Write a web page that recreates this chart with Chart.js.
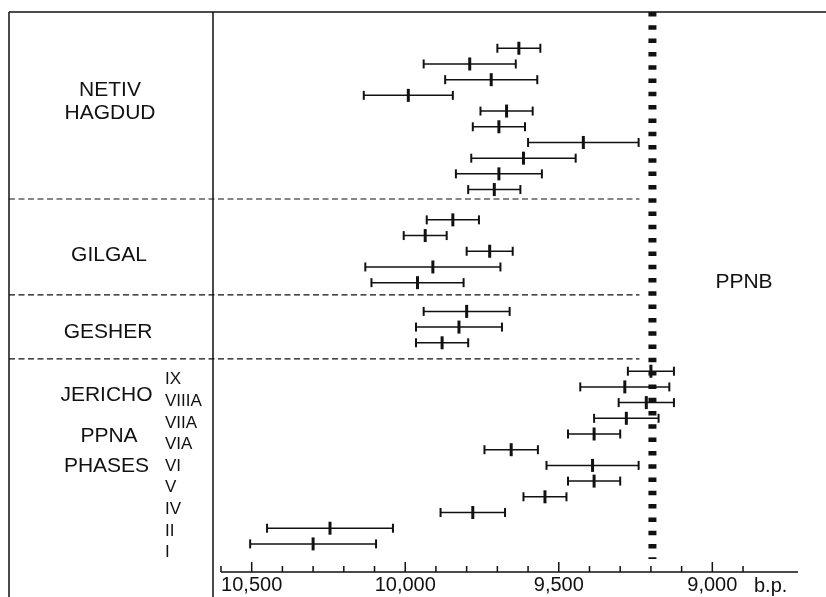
<!DOCTYPE html>
<html>
<head>
<meta charset="utf-8">
<script src="https://cdn.jsdelivr.net/npm/chart.js@4/dist/chart.umd.min.js"></script>
<style>
  html, body { margin: 0; padding: 0; background: #fff; overflow: hidden; }
  canvas { display: block; }
</style>
</head>
<body>
<canvas id="chart" width="826" height="597"></canvas>
<script>
// radiocarbon dates (b.p.) and their one-sigma ranges, top to bottom
const netivDates  = [9630, 9790, 9720, 9990, 9670, 9695, 9420, 9615, 9695, 9710];
const netivErrors = [70, 150, 150, 145, 85, 85, 180, 170, 140, 85];
const gilgalDates  = [9845, 9935, 9725, 9910, 9960];
const gilgalErrors = [85, 70, 75, 220, 150];
const gesherDates  = [9800, 9825, 9880];
const gesherErrors = [140, 140, 85];
const jerichoDates  = [9200, 9285, 9215, 9280, 9385, 9655, 9390, 9385, 9545, 9780, 10245, 10300];
const jerichoErrors = [75, 145, 90, 105, 85, 87, 150, 85, 70, 105, 205, 205];
const jerichoPhases = ['IX', 'VIIIA', 'VIIA', 'VIA', 'VI', 'V', 'IV', 'II', 'I'];
const ppnbBoundary = 9195;
// axis: minor ticks every 100 years from 10,600 to 8,900, labels every 500
const tickFirst = 10600;
const tickLast = 8900;
const tickStep = 100;
const labelStep = 500;

const ink = '#111';
const groups = [
    { dates: netivDates, errors: netivErrors },
    { dates: gilgalDates, errors: gilgalErrors },
    { dates: gesherDates, errors: gesherErrors },
    { dates: jerichoDates, errors: jerichoErrors },
];
// extra space between the site blocks (in row units)
const groupOffset = [0, 0.93, 1.76, 2.57];
const separators = [9.6, 15.71, 19.79];

const datasets = [];
const centers = [];
let row = 0;
groups.forEach((g, gi) => {
    g.dates.forEach((d, i) => {
        const pos = row + groupOffset[gi];
        datasets.push({
            type: 'line',
            data: [{ x: d + g.errors[i], y: pos }, { x: d - g.errors[i], y: pos }],
            borderColor: ink,
            borderWidth: 1.5,
            pointStyle: 'line',
            pointRotation: 90,
            pointRadius: 4.5,
            pointBorderWidth: 2,
            pointBorderColor: ink,
        });
        centers.push({ x: d, y: pos });
        row++;
    });
});
// centre marks
datasets.unshift({
    type: 'scatter',
    data: centers,
    pointStyle: 'line',
    pointRotation: 90,
    pointRadius: 6.5,
    pointBorderWidth: 3,
    pointBorderColor: ink,
});
// PPNB boundary
datasets.push({
    type: 'line',
    data: [{ x: ppnbBoundary, y: -2.31 }, { x: ppnbBoundary, y: 32.53 }],
    borderColor: ink,
    borderWidth: 8,
    borderDash: [4.5, 8.8],
    borderCapStyle: 'butt',
    pointRadius: 0,
});

const decor = {
    id: 'decor',
    beforeDatasetsDraw(chart) {
        const { ctx, chartArea: a, scales: { x, y } } = chart;
        ctx.save();
        ctx.strokeStyle = ink;
        ctx.lineWidth = 1.5;
        ctx.beginPath();
        ctx.moveTo(9, 12); ctx.lineTo(826, 12);
        ctx.moveTo(9, 12); ctx.lineTo(9, 597);
        ctx.moveTo(a.left, 12); ctx.lineTo(a.left, 597);
        ctx.stroke();

        // dashed separators between sites
        const sepEnd = x.getPixelForValue(ppnbBoundary) - 13;
        ctx.setLineDash([6, 3.5]);
        ctx.lineWidth = 1.2;
        separators.forEach(p => {
            const py = y.getPixelForValue(p);
            ctx.beginPath();
            ctx.moveTo(9, py); ctx.lineTo(sepEnd, py);
            ctx.stroke();
        });
        ctx.setLineDash([]);

        // time axis with upward ticks
        const base = a.bottom;
        ctx.lineWidth = 1.5;
        ctx.beginPath();
        ctx.moveTo(x.getPixelForValue(tickFirst), base);
        ctx.lineTo(a.right, base);
        x.ticks.forEach(t => {
            const px = x.getPixelForValue(t.value);
            const len = t.value % labelStep === 0 ? 10 : 6;
            ctx.moveTo(px, base);
            ctx.lineTo(px, base - len);
        });
        ctx.stroke();
        ctx.restore();
    },
    afterDraw(chart) {
        const { ctx } = chart;
        ctx.save();
        ctx.fillStyle = ink;
        ctx.textBaseline = 'middle';
        ctx.textAlign = 'center';
        ctx.font = '21px "Liberation Sans", Arial, sans-serif';
        ctx.fillText('NETIV', 110, 90);
        ctx.fillText('HAGDUD', 110, 113);
        ctx.fillText('GILGAL', 109, 255);
        ctx.fillText('GESHER', 108, 332);
        ctx.fillText('JERICHO', 106.5, 395);
        ctx.fillText('PPNA', 109, 436);
        ctx.fillText('PHASES', 106.5, 466);
        ctx.fillText('PPNB', 744, 282);
        ctx.textAlign = 'left';
        ctx.font = '17px "Liberation Sans", Arial, sans-serif';
        jerichoPhases.forEach((p, i) => ctx.fillText(p, 165, 379.5 + i * 21.66));
        ctx.font = '20px "Liberation Sans", Arial, sans-serif';
        ctx.fillText('b.p.', 754, 586);
        ctx.restore();
    }
};

new Chart(document.getElementById('chart'), {
    type: 'scatter',
    data: { datasets: datasets },
    options: {
        responsive: false,
        animation: false,
        events: [],
        layout: { padding: { left: 213, right: 28, top: 12, bottom: 0 } },
        plugins: { legend: { display: false }, tooltip: { enabled: false } },
        scales: {
            x: {
                type: 'linear',
                reverse: true,
                min: 8721,
                max: 10626,
                grid: { display: false, drawTicks: false },
                border: { display: false },
                afterFit: s => { s.height = 25; },
                afterBuildTicks: s => {
                    const ticks = [];
                    for (let v = tickLast; v <= tickFirst; v += tickStep) ticks.push({ value: v });
                    s.ticks = ticks;
                },
                ticks: {
                    autoSkip: false,
                    minRotation: 0,
                    maxRotation: 0,
                    padding: 1,
                    color: ink,
                    font: { family: '"Liberation Sans", Arial, sans-serif', size: 20 },
                    callback: v => v % labelStep === 0 ? v.toLocaleString('en-US') : ''
                }
            },
            y: {
                type: 'linear',
                reverse: true,
                min: -2.31,
                max: 33.36,
                display: false
            }
        }
    },
    plugins: [decor]
});
</script>
</body>
</html>
